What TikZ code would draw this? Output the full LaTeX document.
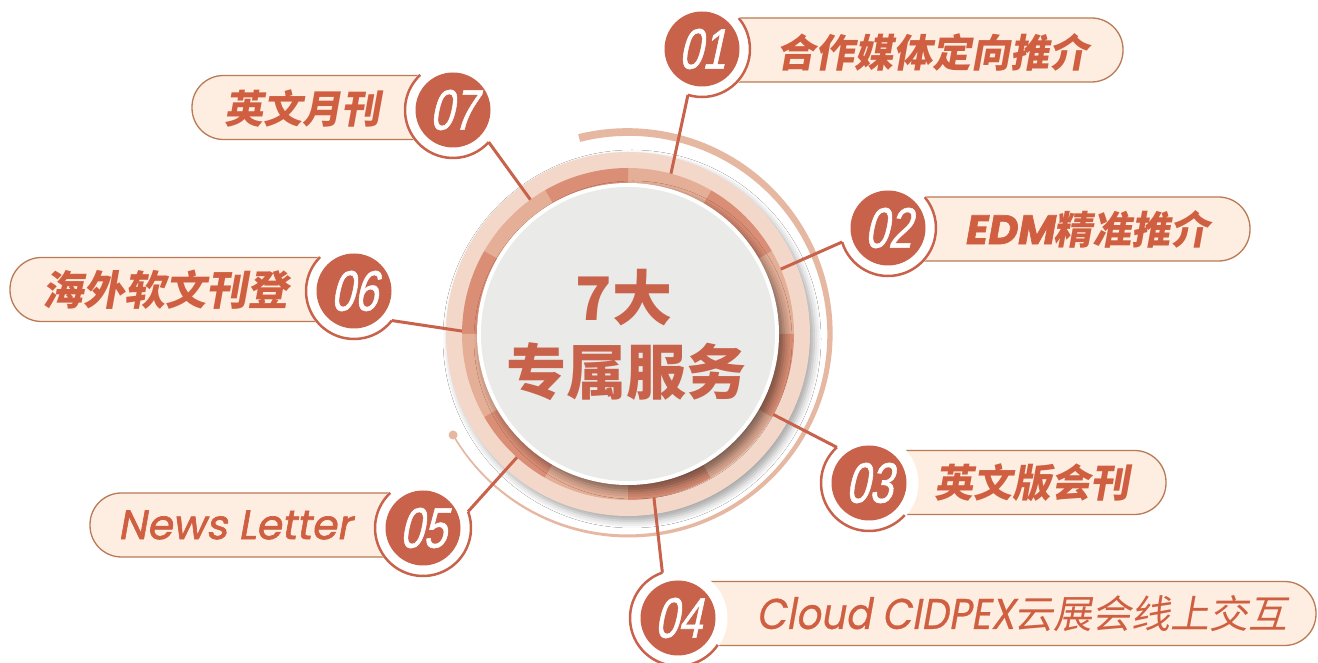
\documentclass[tikz,border=0pt]{standalone}
\usepackage{fontspec}
\usetikzlibrary{shadows.blur}
\newfontfamily\cjkit[FakeSlant=0.18]{Noto Sans CJK SC}
\newfontfamily\cjkup{Noto Sans CJK SC}
\newfontfamily\latit[FakeSlant=0.18,FakeBold=1.6]{Poppins}
\newfontfamily\latthin[FakeSlant=0.18,FakeStretch=0.9,FakeBold=0.6]{Poppins}
\newfontfamily\numfont[FakeSlant=0.22,FakeStretch=0.74,FakeBold=0.9]{Liberation Sans}
\definecolor{org}{HTML}{C8624A}
\definecolor{lblc}{HTML}{CF5F40}
\definecolor{pillf}{HTML}{FDEEE1}
\definecolor{pillb}{HTML}{B97A55}
\definecolor{pinkr}{HTML}{F3D8CA}
\definecolor{arcc}{HTML}{E6B8A2}
\definecolor{segd}{HTML}{DA8E75}
\definecolor{segl}{HTML}{E5AF97}
\definecolor{grayd}{HTML}{EAEAE8}
\tikzset{
  pill/.style={draw=pillb, line width=1.3pt, fill=pillf, rounded corners=31.5pt,
    minimum height=64pt, inner sep=0pt, outer sep=0pt},
  numc/.style={circle, fill=org, minimum size=75pt, inner sep=0pt, text=white,
    font=\numfont\fontsize{57}{57}\selectfont},
  hub/.style={circle, minimum size=96pt, inner sep=0pt, outer sep=0pt},
  ringst/.style={draw=org, line width=2.5pt},
  leader/.style={draw=org, line width=3pt},
  lbl/.style={text=lblc, inner sep=0pt, font=\cjkit\bfseries\fontsize{39}{39}\selectfont},
  ctext/.style={text=org, inner sep=0pt, font=\cjkup\bfseries\fontsize{60}{60}\selectfont},
}
\begin{document}
\begin{tikzpicture}[x=1pt,y=1pt]
\useasboundingbox (0,0) rectangle (1318,663);
\fill[white] (0,0) rectangle (1318,663);
% outer tapered arc
\begin{scope}[shift={(628,329)}]
\fill[arcc] plot[domain=-150:104, samples=120]
   ({(202+0.5*(1.5+(\x+150)*6.5/254))*cos(\x)}, {(202+0.5*(1.5+(\x+150)*6.5/254))*sin(\x)})
   -- plot[domain=104:-150, samples=120]
   ({(202-0.5*(1.5+(\x+150)*6.5/254))*cos(\x)}, {(202-0.5*(1.5+(\x+150)*6.5/254))*sin(\x)})
   -- cycle;
\fill[arcc] (-150:202) circle (4.5pt);
% pink ring with shadow
\fill[pinkr, blur shadow={shadow xshift=4pt, shadow yshift=-5pt, shadow blur radius=7pt, shadow opacity=35}] (0,0) circle (182pt);
% segments
\foreach \k in {0,...,11}{
  \pgfmathtruncatemacro{\pty}{mod(\k,2)}
  \pgfmathsetmacro{\a}{30*\k}
  \pgfmathsetmacro{\b}{30*\k+30}
  \ifnum\pty=1 \def\sc{segd}\else\def\sc{segl}\fi
  \fill[\sc] (\a:166) arc[start angle=\a, end angle=\b, radius=166pt]
     -- (\b:150) arc[start angle=\b, end angle=\a, radius=150pt] -- cycle;
}
\fill[white, blur shadow={shadow xshift=5pt, shadow yshift=-6pt, shadow blur radius=8pt, shadow opacity=45}] (0,0) circle (151pt);
\fill[grayd] (0,0) circle (147pt);
\end{scope}
\node[circle, minimum size=332pt, inner sep=0pt, outer sep=0pt] (big) at (628,329) {};
\node[ctext] (t1) at (624,365) {7大};
\node[ctext] (t2) at (626,291) {专属服务};
% pills
\node[pill, minimum width=423pt] (p01) at (911.5,613) {};
\node[pill, minimum width=370pt] (p02) at (1065,434) {};
\node[pill, minimum width=306pt] (p03) at (1013,180.5) {};
\node[pill, minimum width=646pt] (p04) at (993,49.5) {};
\node[pill, minimum width=340pt] (p05) at (260,138) {};
\node[pill, minimum width=350pt] (p06) at (185,373.5) {};
\node[pill, minimum width=268pt] (p07) at (326,555.5) {};
% hubs
\node[hub] (o01) at (702,614) {};
\node[hub] (o02) at (888,435) {};
\node[hub] (o03) at (869,180) {};
\node[hub] (o04) at (678,45) {};
\node[hub] (o05) at (423,135) {};
\node[hub] (o06) at (354,372) {};
\node[hub] (o07) at (453,553) {};
\foreach \n in {o01,o02,o03,o04,o05,o06,o07}{\fill[white] (\n.center) circle (49.5pt);}
% leaders
\draw[leader] (big.75.5) -- (o01.253);
\draw[leader] (big.23.6) -- (o02.197);
\draw[leader] (big.331.1) -- (o03.132);
\draw[leader] (big.279) -- (o04.109);
\draw[leader] (big.228.2) -- (o05.20);
\draw[leader] (big.179.3) -- (o06.322);
\draw[leader] (big.126.7) -- (o07.318);
% rings
\draw[ringst] (o01.253) arc[start angle=253, end angle=400, radius=48pt];
\draw[ringst] (o02.197) arc[start angle=197, end angle=400, radius=48pt];
\draw[ringst] (o03.132) arc[start angle=132, end angle=318, radius=48pt];
\draw[ringst] (o04.109) arc[start angle=109, end angle=326, radius=48pt];
\draw[ringst] (o05.20) arc[start angle=20, end angle=-227, radius=48pt];
\draw[ringst] (o06.322) arc[start angle=-38, end angle=-225, radius=48pt];
\draw[ringst] (o07.318) arc[start angle=-42, end angle=-227, radius=48pt];
% number circles
\node[numc] (n01) at (o01) {01};
\node[numc] (n02) at (o02) {02};
\node[numc] (n03) at (o03) {03};
\node[numc] (n04) at (o04) {04};
\node[numc] (n05) at (o05) {05};
\node[numc] (n06) at (o06) {06};
\node[numc] (n07) at (o07) {07};
% labels
\node[lbl] (l01) at (932,611) {合作媒体定向推介};
\node[lbl] (l02) at (1087,434) {{\latit\fontsize{41}{41}\selectfont EDM}精准推介};
\node[lbl] (l03) at (1032,180) {英文版会刊};
\node[lbl, font=\cjkit\mdseries\fontsize{39}{39}\selectfont] (l04) at (1022,49) {{\latthin\fontsize{43}{43}\selectfont Cloud CIDPEX}云展会线上交互};
\node[lbl, font=\latit\fontsize{41}{41}\selectfont] (l05) at (235,138) {News Letter};
\node[lbl, font=\cjkit\bfseries\fontsize{41}{41}\selectfont] (l06) at (165,373) {海外软文刊登};
\node[lbl] (l07) at (302,555) {英文月刊};
\end{tikzpicture}
\end{document}
